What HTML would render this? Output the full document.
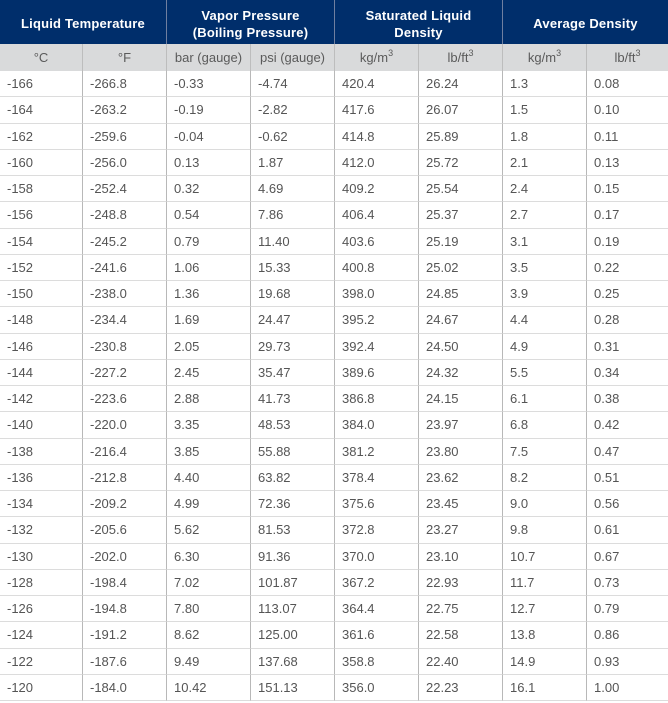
<!DOCTYPE html>
<html><head><meta charset="utf-8">
<style>
html,body{margin:0;padding:0;background:#fff;}
body{width:668px;height:703px;overflow:hidden;font-family:"Liberation Sans",Arial,sans-serif;}
.g{display:grid;grid-template-columns:83px 84px 84px 84px 84px 84px 84px 81px;grid-template-rows:44px 27px repeat(24,26.25px);width:668px;}
.g>div{box-sizing:border-box;}
.h{background:#002e6b;color:#fff;font-weight:bold;font-size:13px;line-height:17px;display:flex;align-items:center;justify-content:center;text-align:center;border-right:1px solid #6f7fa0;padding-top:3px;letter-spacing:0.2px;}
.h.l{border-right:none;}
.s{background:#d9dadb;color:#5a5a5a;font-size:13px;display:flex;align-items:center;justify-content:center;border-right:1px solid #bdbdbd;}
.s.l{border-right:none;}
.c{color:#555;font-size:13px;display:flex;align-items:center;padding-left:7px;border-right:1px solid #b8b8b8;border-bottom:1px solid #dcdcdc;}
.c.l{border-right:none;}
sup{font-size:9px;line-height:0;position:relative;top:-5px;vertical-align:baseline;}
</style></head><body>
<div class="g">
<div class="h" style="grid-column:span 2">Liquid Temperature</div>
<div class="h" style="grid-column:span 2">Vapor Pressure<br>(Boiling Pressure)</div>
<div class="h" style="grid-column:span 2">Saturated Liquid<br>Density</div>
<div class="h l" style="grid-column:span 2">Average Density</div>
<div class="s">°C</div><div class="s">°F</div><div class="s">bar (gauge)</div><div class="s">psi (gauge)</div><div class="s">kg/m<sup>3</sup></div><div class="s">lb/ft<sup>3</sup></div><div class="s">kg/m<sup>3</sup></div><div class="s l">lb/ft<sup>3</sup></div>
<div class="c">-166</div><div class="c">-266.8</div><div class="c">-0.33</div><div class="c">-4.74</div><div class="c">420.4</div><div class="c">26.24</div><div class="c">1.3</div><div class="c l">0.08</div>
<div class="c">-164</div><div class="c">-263.2</div><div class="c">-0.19</div><div class="c">-2.82</div><div class="c">417.6</div><div class="c">26.07</div><div class="c">1.5</div><div class="c l">0.10</div>
<div class="c">-162</div><div class="c">-259.6</div><div class="c">-0.04</div><div class="c">-0.62</div><div class="c">414.8</div><div class="c">25.89</div><div class="c">1.8</div><div class="c l">0.11</div>
<div class="c">-160</div><div class="c">-256.0</div><div class="c">0.13</div><div class="c">1.87</div><div class="c">412.0</div><div class="c">25.72</div><div class="c">2.1</div><div class="c l">0.13</div>
<div class="c">-158</div><div class="c">-252.4</div><div class="c">0.32</div><div class="c">4.69</div><div class="c">409.2</div><div class="c">25.54</div><div class="c">2.4</div><div class="c l">0.15</div>
<div class="c">-156</div><div class="c">-248.8</div><div class="c">0.54</div><div class="c">7.86</div><div class="c">406.4</div><div class="c">25.37</div><div class="c">2.7</div><div class="c l">0.17</div>
<div class="c">-154</div><div class="c">-245.2</div><div class="c">0.79</div><div class="c">11.40</div><div class="c">403.6</div><div class="c">25.19</div><div class="c">3.1</div><div class="c l">0.19</div>
<div class="c">-152</div><div class="c">-241.6</div><div class="c">1.06</div><div class="c">15.33</div><div class="c">400.8</div><div class="c">25.02</div><div class="c">3.5</div><div class="c l">0.22</div>
<div class="c">-150</div><div class="c">-238.0</div><div class="c">1.36</div><div class="c">19.68</div><div class="c">398.0</div><div class="c">24.85</div><div class="c">3.9</div><div class="c l">0.25</div>
<div class="c">-148</div><div class="c">-234.4</div><div class="c">1.69</div><div class="c">24.47</div><div class="c">395.2</div><div class="c">24.67</div><div class="c">4.4</div><div class="c l">0.28</div>
<div class="c">-146</div><div class="c">-230.8</div><div class="c">2.05</div><div class="c">29.73</div><div class="c">392.4</div><div class="c">24.50</div><div class="c">4.9</div><div class="c l">0.31</div>
<div class="c">-144</div><div class="c">-227.2</div><div class="c">2.45</div><div class="c">35.47</div><div class="c">389.6</div><div class="c">24.32</div><div class="c">5.5</div><div class="c l">0.34</div>
<div class="c">-142</div><div class="c">-223.6</div><div class="c">2.88</div><div class="c">41.73</div><div class="c">386.8</div><div class="c">24.15</div><div class="c">6.1</div><div class="c l">0.38</div>
<div class="c">-140</div><div class="c">-220.0</div><div class="c">3.35</div><div class="c">48.53</div><div class="c">384.0</div><div class="c">23.97</div><div class="c">6.8</div><div class="c l">0.42</div>
<div class="c">-138</div><div class="c">-216.4</div><div class="c">3.85</div><div class="c">55.88</div><div class="c">381.2</div><div class="c">23.80</div><div class="c">7.5</div><div class="c l">0.47</div>
<div class="c">-136</div><div class="c">-212.8</div><div class="c">4.40</div><div class="c">63.82</div><div class="c">378.4</div><div class="c">23.62</div><div class="c">8.2</div><div class="c l">0.51</div>
<div class="c">-134</div><div class="c">-209.2</div><div class="c">4.99</div><div class="c">72.36</div><div class="c">375.6</div><div class="c">23.45</div><div class="c">9.0</div><div class="c l">0.56</div>
<div class="c">-132</div><div class="c">-205.6</div><div class="c">5.62</div><div class="c">81.53</div><div class="c">372.8</div><div class="c">23.27</div><div class="c">9.8</div><div class="c l">0.61</div>
<div class="c">-130</div><div class="c">-202.0</div><div class="c">6.30</div><div class="c">91.36</div><div class="c">370.0</div><div class="c">23.10</div><div class="c">10.7</div><div class="c l">0.67</div>
<div class="c">-128</div><div class="c">-198.4</div><div class="c">7.02</div><div class="c">101.87</div><div class="c">367.2</div><div class="c">22.93</div><div class="c">11.7</div><div class="c l">0.73</div>
<div class="c">-126</div><div class="c">-194.8</div><div class="c">7.80</div><div class="c">113.07</div><div class="c">364.4</div><div class="c">22.75</div><div class="c">12.7</div><div class="c l">0.79</div>
<div class="c">-124</div><div class="c">-191.2</div><div class="c">8.62</div><div class="c">125.00</div><div class="c">361.6</div><div class="c">22.58</div><div class="c">13.8</div><div class="c l">0.86</div>
<div class="c">-122</div><div class="c">-187.6</div><div class="c">9.49</div><div class="c">137.68</div><div class="c">358.8</div><div class="c">22.40</div><div class="c">14.9</div><div class="c l">0.93</div>
<div class="c">-120</div><div class="c">-184.0</div><div class="c">10.42</div><div class="c">151.13</div><div class="c">356.0</div><div class="c">22.23</div><div class="c">16.1</div><div class="c l">1.00</div>
</div>
</body></html>
